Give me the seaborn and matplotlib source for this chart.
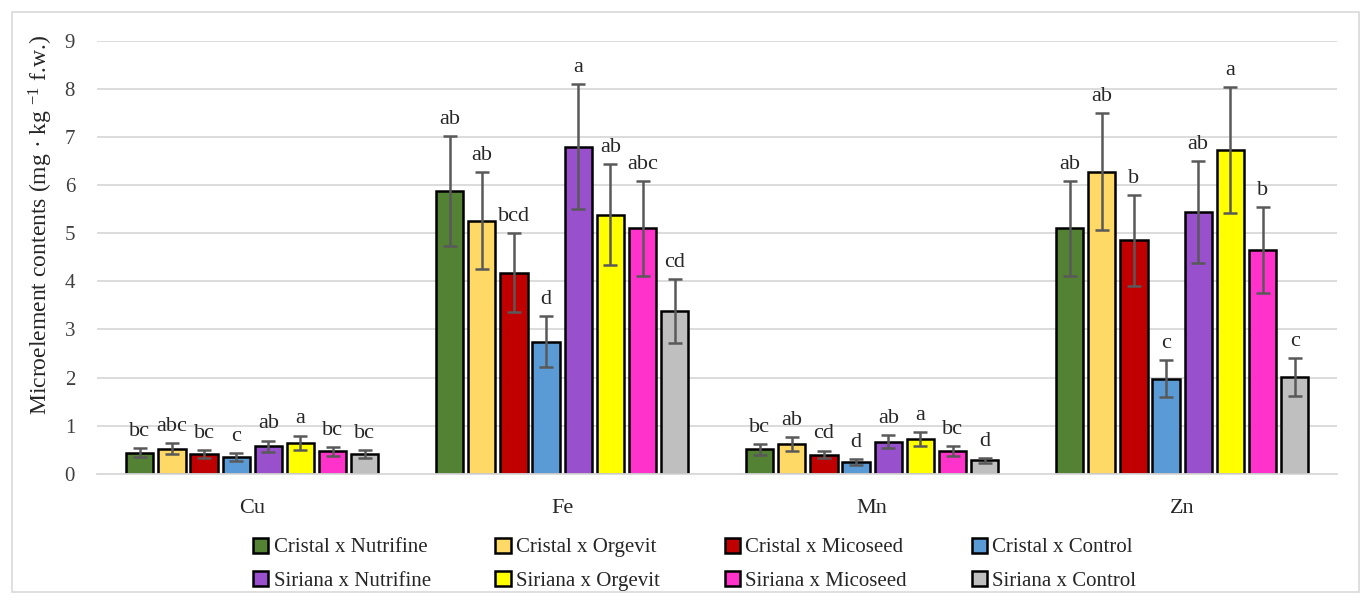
import seaborn as sns
import matplotlib.pyplot as plt
from matplotlib.patches import Rectangle
import pandas as pd

elements = ["Cu", "Fe", "Mn", "Zn"]
treatments = ["Cristal x Nutrifine", "Cristal x Orgevit", "Cristal x Micoseed", "Cristal x Control",
              "Siriana x Nutrifine", "Siriana x Orgevit", "Siriana x Micoseed", "Siriana x Control"]
colors = ["#548235", "#FFD966", "#C00000", "#5B9BD5", "#9950CC", "#FFFF00", "#FF33CC", "#BFBFBF"]

# mean values per element (same order as treatments)
cu = [0.44, 0.52, 0.41, 0.35, 0.57, 0.65, 0.47, 0.41]
fe = [5.88, 5.26, 4.18, 2.74, 6.80, 5.38, 5.10, 3.38]
mn = [0.51, 0.62, 0.40, 0.25, 0.67, 0.72, 0.48, 0.28]
zn = [5.10, 6.28, 4.85, 1.98, 5.44, 6.72, 4.65, 2.01]

cu_sd = [0.10, 0.11, 0.085, 0.08, 0.12, 0.145, 0.09, 0.09]
fe_sd = [1.14, 1.01, 0.82, 0.53, 1.30, 1.05, 0.99, 0.67]
mn_sd = [0.11, 0.14, 0.08, 0.06, 0.13, 0.15, 0.10, 0.05]
zn_sd = [0.99, 1.22, 0.94, 0.38, 1.06, 1.31, 0.90, 0.40]

cu_let = ["bc", "abc", "bc", "c", "ab", "a", "bc", "bc"]
fe_let = ["ab", "ab", "bcd", "d", "a", "ab", "abc", "cd"]
mn_let = ["bc", "ab", "cd", "d", "ab", "a", "bc", "d"]
zn_let = ["ab", "ab", "b", "c", "ab", "a", "b", "c"]

values = {"Cu": cu, "Fe": fe, "Mn": mn, "Zn": zn}
sds = {"Cu": cu_sd, "Fe": fe_sd, "Mn": mn_sd, "Zn": zn_sd}
letters = {"Cu": cu_let, "Fe": fe_let, "Mn": mn_let, "Zn": zn_let}

rows = []
for el in elements:
    for i, t in enumerate(treatments):
        rows.append({"element": el, "treatment": t, "value": values[el][i],
                     "sd": sds[el][i], "letter": letters[el][i]})
df = pd.DataFrame(rows)

sns.set_style("white")
plt.rcParams["font.family"] = ["Liberation Serif", "DejaVu Serif"]
plt.rcParams["mathtext.fontset"] = "custom"
plt.rcParams["mathtext.rm"] = "Liberation Serif"
plt.rcParams["mathtext.default"] = "rm"

fig = plt.figure(figsize=(13.7, 5.99), dpi=100)
ax = fig.add_axes([0.071, 0.209, 0.905, 0.723])

sns.barplot(data=df, x="element", y="value", hue="treatment", order=elements,
            hue_order=treatments, palette=colors, width=0.83, gap=0.15, saturation=1,
            errorbar=None, edgecolor="black", linewidth=1.8, ax=ax)

# error bars and significance letters at bar centres
for j, t in enumerate(treatments):
    cont = ax.containers[j]
    for k, bar in enumerate(cont):
        el = elements[k]
        sub = df[(df.element == el) & (df.treatment == t)].iloc[0]
        xc = bar.get_x() + bar.get_width() / 2
        ax.errorbar(xc, sub.value, yerr=sub.sd, color="#595959", capsize=5,
                    elinewidth=1.8, capthick=1.8, fmt="none", zorder=5)
        ax.text(xc, sub.value + sub.sd + 0.15, sub.letter, ha="center", va="bottom",
                fontsize=16, color="#262626")

ax.set_ylim(0, 9)
ax.set_xlim(-0.5, 3.5)
ax.set_yticks(range(0, 10))
ax.yaxis.grid(True, color="#D9D9D9", linewidth=1.3)
ax.set_axisbelow(True)
for s in ["top", "right", "left"]:
    ax.spines[s].set_visible(False)
ax.spines["bottom"].set_color("#D9D9D9")
ax.spines["bottom"].set_linewidth(1.3)
ax.tick_params(axis="y", length=0, labelsize=15, colors="#404040", pad=16)
ax.tick_params(axis="x", length=0, labelsize=16, colors="#262626", pad=18)
ax.set_xlabel("")
ax.set_ylabel("Microelement contents (mg · kg $^{-1}$ f.w.)", fontsize=17,
              color="#262626")
ax.yaxis.set_label_coords(-0.034, 0.575)

handles, labels = ax.get_legend_handles_labels()
ax.get_legend().remove()
order = [0, 4, 1, 5, 2, 6, 3, 7]
fig.legend([handles[i] for i in order], [labels[i] for i in order], ncol=4,
           loc="center", bbox_to_anchor=(0.507, 0.058), frameon=False, fontsize=15,
           handlelength=0.75, handleheight=0.75, handletextpad=0.25, columnspacing=3.1,
           labelspacing=0.65)

fig.patches.append(Rectangle((0.009, 0.012), 0.983, 0.968, transform=fig.transFigure,
                             fill=False, edgecolor="#D9D9D9", linewidth=1.2))

plt.savefig("out.png", dpi=100)
